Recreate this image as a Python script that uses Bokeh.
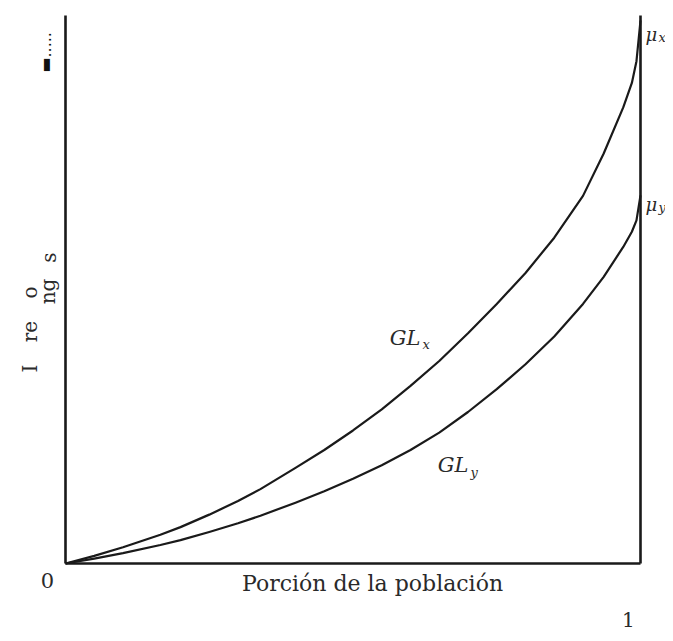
from bokeh.plotting import figure
from bokeh.models import Range1d, Label
from bokeh.embed import file_html
from bokeh.resources import INLINE

# Population share (x)
p_share = [0.0, 0.05, 0.1, 0.165, 0.2, 0.25, 0.3, 0.339, 0.4, 0.45, 0.5, 0.55, 0.6,
           0.65, 0.7, 0.75, 0.8, 0.85, 0.9, 0.936, 0.97, 0.985, 0.993, 1.0]
# Generalized Lorenz curve GLx (ends at mu_x = 1)
gl_x = [0.0, 0.014, 0.030, 0.053, 0.067, 0.090, 0.115, 0.137, 0.176, 0.209, 0.245, 0.284, 0.327,
        0.373, 0.424, 0.478, 0.535, 0.600, 0.677, 0.755, 0.840, 0.885, 0.925, 1.0]
# Generalized Lorenz curve GLy (ends at mu_y)
gl_y = [0.0, 0.009, 0.019, 0.034, 0.043, 0.058, 0.074, 0.088, 0.112, 0.133, 0.156, 0.181, 0.209,
        0.241, 0.279, 0.321, 0.367, 0.418, 0.478, 0.528, 0.583, 0.611, 0.632, 0.678]
FRAME_TOP = 1.009

SERIF = "DejaVu Serif"
INK = "#1a1a1a"

W, H = 665, 633
p = figure(width=W, height=H, output_backend="svg", toolbar_location=None,
           x_range=Range1d(-0.11304, 1.04348), y_range=Range1d(-0.12891, 1.03683),
           min_border=0, min_border_left=0, min_border_right=0,
           min_border_top=0, min_border_bottom=0)
p.xaxis.visible = False
p.yaxis.visible = False
p.grid.visible = False
p.outline_line_color = None
p.background_fill_color = "white"
p.border_fill_color = "white"

x0, x1 = p_share[0], p_share[-1]
# frame lines: left axis, bottom axis, right vertical at x = 1
p.line([x0, x0], [0, FRAME_TOP], line_color=INK, line_width=2.6)
p.line([x0, x1], [0, 0], line_color=INK, line_width=2.6)
p.line([x1, x1], [0, FRAME_TOP], line_color=INK, line_width=2.6)

p.line(p_share, gl_x, line_color=INK, line_width=2.2, line_join="round")
p.line(p_share, gl_y, line_color=INK, line_width=2.2, line_join="round")

def lab(x, y, t, size="21px", style="normal", align="center", base="middle", angle=0,
        color="#2a2a2a", font=SERIF):
    p.add_layout(Label(x=x, y=y, text=t, text_font=font, text_font_size=size,
                       text_font_style=style, text_align=align, text_baseline=base,
                       angle=angle, text_color=color))

# bottom labels
lab(-0.0313, -0.0313, "0", size="21px")
lab(0.534, -0.036, "Porción de la población", size="22px")
lab(0.979, -0.104, "1", size="20px")

# curve labels
lab(0.6174, 0.4162, "GL", size="21px", style="italic", align="right")
lab(0.6209, 0.4033, "x", size="13px", style="italic", align="left")
lab(0.7009, 0.1805, "GL", size="21px", style="italic", align="right")
lab(0.7043, 0.1676, "y", size="13px", style="italic", align="left")

# mu labels
lab(1.0087, 0.974, "μ", size="18px", style="italic", align="left")
lab(1.0313, 0.968, "x", size="13px", style="italic", align="left")
lab(1.0087, 0.661, "μ", size="18px", style="italic", align="left")
lab(1.0313, 0.655, "y", size="13px", style="italic", align="left")

# rotated (scanned) y-axis label fragments
ROT = 1.5708
lab(-0.0609, 0.359, "I", size="20px", base="alphabetic", angle=ROT)
lab(-0.0609, 0.427, "re", size="20px", base="alphabetic", angle=ROT)
lab(-0.0609, 0.499, "o", size="20px", base="alphabetic", angle=ROT)
lab(-0.031, 0.501, "ng", size="20px", base="alphabetic", angle=ROT)
lab(-0.028, 0.5635, "s", size="20px", base="alphabetic", angle=ROT)
# dotted mark top-left
lab(-0.0348, 0.904, "▬.....", size="16px", align="left", base="middle", angle=ROT,
    color="#111111", font="DejaVu Sans")

open("out.html", "w").write(file_html(p, INLINE))
